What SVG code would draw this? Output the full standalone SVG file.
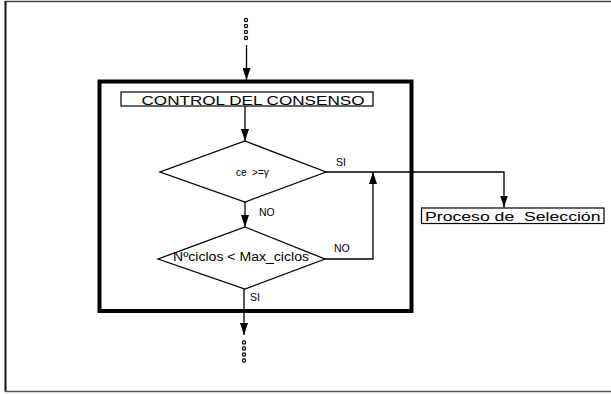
<svg xmlns="http://www.w3.org/2000/svg" width="611" height="394" viewBox="0 0 611 394">
<style>
text{font-family:"Liberation Sans",Arial,sans-serif;fill:#000;white-space:pre}
.ln{fill:none;stroke:#000;stroke-width:1.3}
.dot{fill:#fff;stroke:#000;stroke-width:1.2}
.lbl{font-size:10.5px}
</style>
<defs>
<marker id="arr" viewBox="0 0 12 8" refX="12" refY="4" markerWidth="12" markerHeight="8" markerUnits="userSpaceOnUse" orient="auto">
<path d="M0,0 L12,4 L0,8 Z" fill="#000"/>
</marker>
</defs>
<g id="frame">
<line x1="5.5" y1="1.5" x2="611" y2="1.5" stroke="#444" stroke-width="1.5"/>
<line x1="5.5" y1="1" x2="5.5" y2="392" stroke="#111" stroke-width="2"/>
<line x1="5" y1="391.5" x2="611" y2="391.5" stroke="#555" stroke-width="1.5"/>
</g>
<g id="container">
<rect x="99.5" y="81.5" width="312" height="229.5" fill="none" stroke="#000" stroke-width="4"/>
</g>
<g id="title">
<rect x="121" y="92" width="252" height="14" fill="#fff" stroke="#000" stroke-width="1.2"/>
<text x="141.5" y="104.5" font-size="13.5" textLength="223" lengthAdjust="spacingAndGlyphs">CONTROL DEL CONSENSO</text>
</g>
<g id="decision1">
<polygon points="245,141 326,172 245,202 160,172" fill="#fff" stroke="#000" stroke-width="1.3"/>
<text x="236" y="176" font-size="10" xml:space="preserve">ce  &gt;=γ</text>
</g>
<g id="decision2">
<polygon points="245,227 325,259 245,289 158,259" fill="#fff" stroke="#000" stroke-width="1.3"/>
<text x="173" y="261" font-size="12" textLength="136" lengthAdjust="spacingAndGlyphs">Nºciclos &lt; Max_ciclos</text>
</g>
<g id="proceso">
<rect x="421.5" y="208" width="182.5" height="15.5" fill="#fff" stroke="#000" stroke-width="1.2"/>
<text x="425" y="220.5" font-size="13" textLength="175.5" lengthAdjust="spacingAndGlyphs" xml:space="preserve">Proceso de  Selección</text>
</g>
<g id="connectors">
<g id="dots-top">
<circle class="dot" cx="246" cy="20" r="1.6"/>
<circle class="dot" cx="246" cy="26" r="1.6"/>
<circle class="dot" cx="246" cy="32" r="1.6"/>
<circle class="dot" cx="246" cy="38" r="1.6"/>
</g>
<line class="ln" x1="246.5" y1="45" x2="246.5" y2="80" marker-end="url(#arr)"/>
<line class="ln" x1="245" y1="106" x2="245" y2="141" marker-end="url(#arr)"/>
<line class="ln" x1="245" y1="202" x2="245" y2="227" marker-end="url(#arr)"/>
<polyline class="ln" points="326,172 504,172 504,207.5" marker-end="url(#arr)"/>
<polyline class="ln" points="325,259 373,259 373,172" marker-end="url(#arr)"/>
<line class="ln" x1="244" y1="289" x2="244" y2="335" marker-end="url(#arr)"/>
<g id="dots-bottom">
<circle class="dot" cx="244" cy="342.5" r="1.6"/>
<circle class="dot" cx="244" cy="348.5" r="1.6"/>
<circle class="dot" cx="244" cy="354.5" r="1.6"/>
<circle class="dot" cx="244" cy="360.5" r="1.6"/>
</g>
<text class="lbl" x="336" y="166">SI</text>
<text class="lbl" x="259" y="215.5">NO</text>
<text class="lbl" x="334" y="251.5">NO</text>
<text class="lbl" x="250" y="300.5">SI</text>
</g>
</svg>
